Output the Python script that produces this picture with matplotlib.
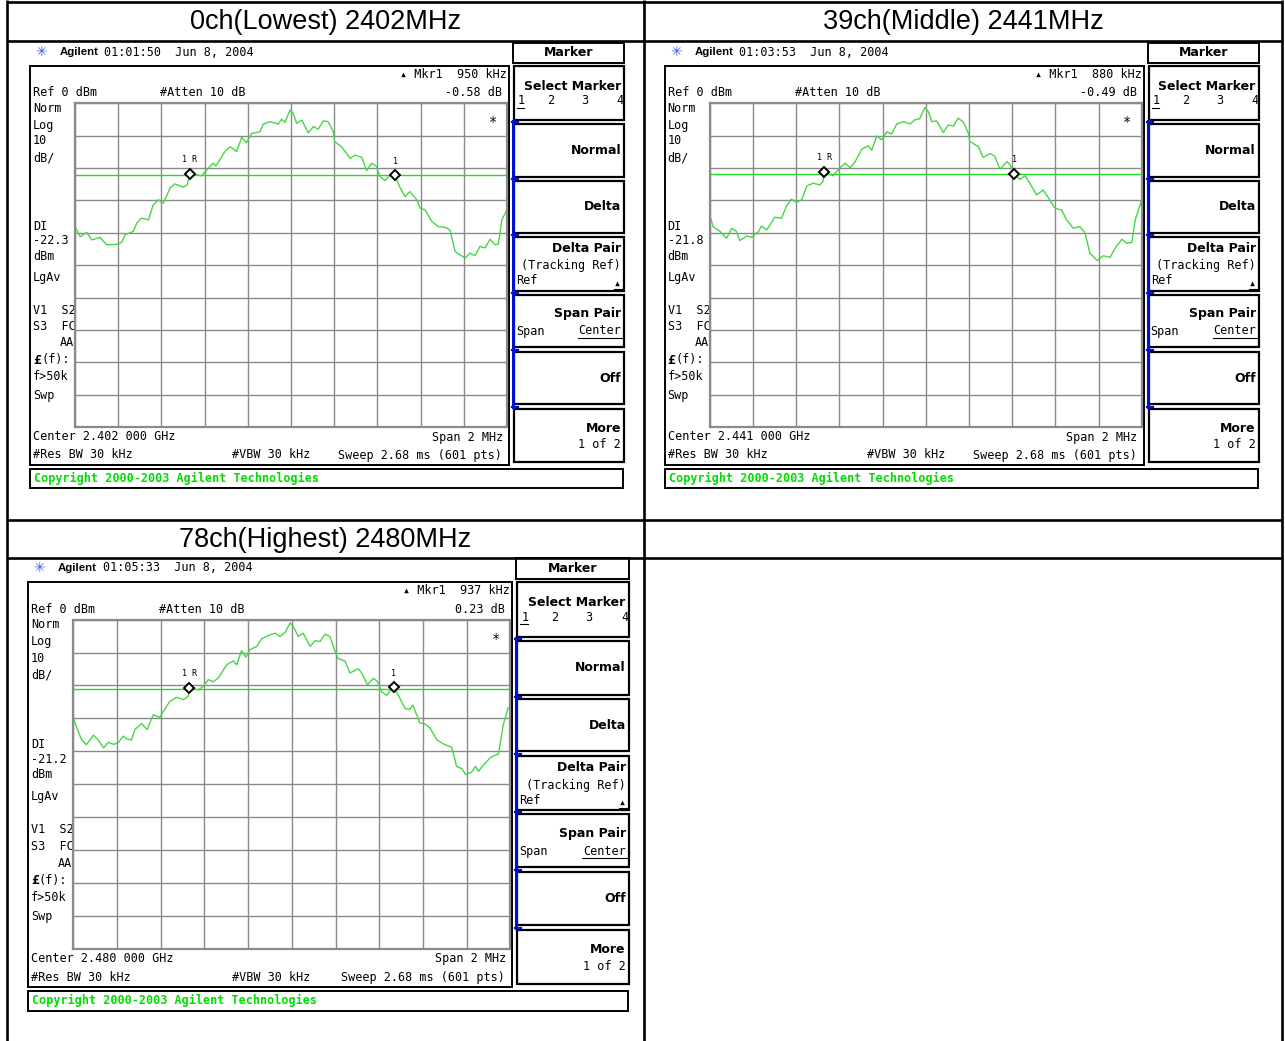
import matplotlib
matplotlib.use("Agg")
import matplotlib.pyplot as plt
from matplotlib import font_manager
from matplotlib.font_manager import FontProperties
import numpy as np

W, H = 1285, 1041
MONO = "DejaVu Sans Mono"
MONO_SIZE = 8.5

# channel titles and analyzer readouts
titles = ["0ch(Lowest) 2402MHz", "39ch(Middle) 2441MHz", "78ch(Highest) 2480MHz"]
times = ["01:01:50", "01:03:53", "01:05:33"]
centers = ["2.402 000 GHz", "2.441 000 GHz", "2.480 000 GHz"]
display_line = [-22.3, -21.8, -21.2]
mkr_delta_khz = [950, 880, 937]
mkr_delta_db = [-0.58, -0.49, 0.23]
ref_mkr_khz = [-468, -470, -470]
ref_mkr_dbm = [-21.7, -21.2, -20.8]

# traces: offset from center frequency (kHz) and level (dBm)
low_khz = [-1000, -976, -946, -922, -884, -854, -808, -784, -768, -730, -714, -692, -660,
           -638, -614, -592, -560, -538, -498, -480, -468, -414, -390, -360, -348, -306,
           -282, -252, -228, -206, -182, -144, -128, -98, -58, -44, -28, -4, 10, 26, 50,
           80, 104, 126, 150, 172, 196, 202, 234, 274, 296, 328, 350, 374, 396, 412, 436,
           458, 482, 504, 528, 550, 582, 598, 620, 652, 682, 712, 736, 760, 782, 806, 828,
           852, 875, 898, 922, 944, 960, 976, 1000]
low_dbm = [-38.1, -41.2, -39.9, -42.2, -41.4, -43.7, -43.6, -43.0, -40.6, -39.6, -37.0,
           -35.5, -36.0, -31.4, -29.8, -30.9, -26.2, -24.9, -25.9, -25.2, -21.7, -22.4,
           -20.6, -18.5, -19.4, -14.9, -13.4, -14.9, -10.5, -12.2, -9.3, -8.8, -6.4, -5.7,
           -6.4, -4.9, -5.9, -2.0, -3.1, -6.2, -5.2, -9.1, -7.2, -8.0, -5.4, -5.7, -8.8,
           -11.8, -13.4, -17.0, -16.0, -16.7, -20.8, -18.5, -19.5, -22.6, -23.9, -22.1,
           -22.3, -25.9, -28.8, -27.3, -29.8, -32.4, -32.9, -36.5, -38.1, -38.3, -39.1,
           -45.8, -46.8, -47.8, -46.3, -47.1, -44.2, -44.7, -42.0, -43.7, -43.5, -36.0,
           -32.9]

mid_khz = [-1000, -984, -952, -922, -898, -876, -860, -828, -806, -774, -760, -736, -698,
           -668, -644, -622, -598, -574, -550, -520, -490, -476, -470, -428, -404, -374,
           -350, -328, -296, -266, -250, -226, -204, -180, -158, -134, -104, -72, -50, -28,
           -4, 12, 28, 50, 82, 104, 128, 150, 174, 198, 204, 244, 266, 298, 320, 344, 376,
           390, 410, 436, 460, 482, 514, 544, 568, 598, 630, 652, 684, 714, 738, 760, 794,
           822, 854, 876, 908, 930, 954, 970, 1000]
mid_dbm = [-34.5, -38.1, -39.6, -41.7, -38.6, -39.6, -42.4, -41.0, -41.4, -39.6, -37.9,
           -39.1, -35.2, -35.5, -31.7, -29.6, -30.6, -29.8, -25.5, -24.7, -25.2, -24.2,
           -21.2, -22.4, -20.4, -18.5, -19.9, -18.2, -14.2, -13.1, -14.5, -10.1, -11.3,
           -8.8, -9.5, -6.4, -5.7, -6.4, -5.1, -4.8, -1.3, -2.5, -5.7, -5.4, -9.0, -6.7,
           -7.0, -4.6, -5.7, -9.3, -11.8, -13.4, -16.7, -15.5, -16.4, -20.4, -18.0, -19.0,
           -21.7, -23.5, -22.4, -24.7, -28.3, -26.8, -29.2, -32.4, -33.0, -36.0, -38.6,
           -38.1, -40.1, -46.3, -48.6, -47.1, -47.6, -44.8, -42.0, -43.2, -43.0, -36.0,
           -29.8]

high_khz = [-1000, -984, -962, -940, -908, -886, -862, -840, -816, -794, -772, -756, -734,
            -718, -688, -662, -634, -604, -588, -558, -526, -496, -474, -470, -428, -406,
            -382, -360, -336, -298, -268, -252, -230, -210, -192, -160, -138, -108, -76,
            -54, -30, -8, 6, 30, 52, 84, 106, 130, 152, 174, 198, 212, 244, 266, 304, 320,
            346, 374, 392, 412, 434, 450, 467, 488, 518, 538, 554, 586, 610, 632, 664, 694,
            732, 754, 778, 796, 824, 840, 854, 876, 908, 930, 946, 968, 990, 1000]
high_dbm = [-29.9, -32.9, -36.5, -38.0, -35.1, -36.5, -39.0, -37.3, -37.9, -37.4, -35.4,
            -36.2, -36.6, -33.4, -31.6, -33.4, -28.9, -29.7, -27.9, -24.8, -23.6, -24.3,
            -23.3, -20.8, -21.3, -20.3, -18.2, -18.9, -17.7, -13.7, -12.5, -13.7, -9.4,
            -11.4, -9.1, -8.1, -5.8, -4.8, -4.1, -5.1, -3.8, -1.0, -2.0, -5.1, -4.1, -8.1,
            -6.4, -6.6, -4.4, -5.1, -9.6, -11.8, -12.6, -16.2, -14.9, -16.2, -19.8, -17.8,
            -18.8, -22.0, -23.0, -21.6, -20.6, -23.0, -27.0, -27.3, -26.0, -31.4, -31.7,
            -32.9, -36.5, -37.8, -38.8, -44.6, -45.3, -47.1, -46.3, -44.6, -46.1, -44.3,
            -42.0, -41.2, -40.8, -31.9, -26.8, -26.7]

traces = [(low_khz, low_dbm), (mid_khz, mid_dbm), (high_khz, high_dbm)]

left_labels = [("Norm", 108), ("Log", 125), ("10", 141), ("dB/", 158), ("DI", 226),
               (None, 241), ("dBm", 256), ("LgAv", 277), ("V1  S2", 310), ("S3  FC", 327),
               ("f>50k", 377), ("Swp", 395)]

# softkey boxes (top, bottom) in screen pixels
key_boxes = [(66, 120), (124, 177), (181, 233), (237, 291), (295, 347), (352, 404), (409, 462)]


def has_font(name):
    try:
        font_manager.findfont(FontProperties(family=name), fallback_to_default=False)
        return True
    except Exception:
        return False


TITLE_FONT = "Liberation Sans Narrow" if has_font("Liberation Sans Narrow") else "Liberation Sans"
TITLE_SIZE = 23 if TITLE_FONT == "Liberation Sans Narrow" else 19.5


def make_map(dx, dy, sx=1.0, sy=1.0):
    return lambda x, y: (dx + sx * x, dy + sy * y)


def fig_rect(x0, y0, x1, y1):
    return [x0 / W, 1 - y1 / H, (x1 - x0) / W, (y1 - y0) / H]


def put(ax, P, x, y, s, size=MONO_SIZE, ha="left", weight="normal", family=MONO, color="black"):
    px, py = P(x, y)
    ax.text(px, py, s, ha=ha, va="center", fontsize=size, fontweight=weight,
            family=family, color=color)


def box(ax, P, x0, y0, x1, y1, lw=1.3, color="black"):
    a = P(x0, y0)
    b = P(x1, y1)
    ax.add_patch(plt.Rectangle(a, b[0] - a[0], b[1] - a[1], fill=False, lw=lw, ec=color))


def hline(ax, P, x0, x1, y, lw=0.8, color="black"):
    a = P(x0, y)
    b = P(x1, y)
    ax.plot([a[0], b[0]], [a[1], b[1]], color=color, lw=lw)


def draw_screen(fig, bg, P, i):
    # header line
    put(bg, P, 41, 52, "\u2733", size=10, ha="center", family="DejaVu Sans", color="#3a5fe0")
    put(bg, P, 60, 52, "Agilent", size=8.2, weight="bold", family="Liberation Sans")
    put(bg, P, 104, 52, f"{times[i]}  Jun 8, 2004")

    box(bg, P, 30, 66, 509, 465, lw=1.4)

    # readouts above the graticule
    put(bg, P, 507, 75, f"\u25b4 Mkr1  {mkr_delta_khz[i]} kHz", ha="right")
    put(bg, P, 33, 93, "Ref 0 dBm")
    put(bg, P, 160, 93, "#Atten 10 dB")
    put(bg, P, 502, 93, f"{mkr_delta_db[i]:.2f} dB", ha="right")

    for text, y in left_labels:
        put(bg, P, 33, y, text if text else f"{display_line[i]}")
    put(bg, P, 74, 343, "AA", ha="right")
    put(bg, P, 33, 360, "\u00a3", weight="bold", size=9.5)
    put(bg, P, 41, 360, "(f):")

    put(bg, P, 33, 437, f"Center {centers[i]}")
    put(bg, P, 503, 437, "Span 2 MHz", ha="right")
    put(bg, P, 33, 455, "#Res BW 30 kHz")
    put(bg, P, 232, 455, "#VBW 30 kHz")
    put(bg, P, 502, 455, "Sweep 2.68 ms (601 pts)", ha="right")

    box(bg, P, 30, 469, 623, 488, lw=1.4)
    put(bg, P, 34, 478, "Copyright 2000-2003 Agilent Technologies", weight="bold", color="#00dd00")

    # softkey column
    box(bg, P, 513, 43, 624, 63, lw=1.4)
    put(bg, P, 568.5, 53, "Marker", size=9, ha="center", weight="bold", family="DejaVu Sans")
    for top, bot in key_boxes:
        box(bg, P, 514, top, 624, bot, lw=1.6)
    a, b = P(513, 121), P(513, 407)
    bg.plot([a[0], b[0]], [a[1], b[1]], color="#0010d0", lw=2.2)
    for top, _ in key_boxes[1:]:
        hline(bg, P, 512, 518, top - 2, lw=1.6, color="#0010d0")

    kw = dict(size=9, ha="right", weight="bold", family="DejaVu Sans")
    put(bg, P, 621, 86, "Select Marker", **kw)
    for n, x in zip("1234", [518, 551, 585, 620]):
        put(bg, P, x, 101, n, ha="left" if n == "1" else "center")
    hline(bg, P, 517, 524, 108)
    put(bg, P, 621, 150, "Normal", **kw)
    put(bg, P, 621, 207, "Delta", **kw)
    put(bg, P, 621, 249, "Delta Pair", **kw)
    put(bg, P, 621, 266, "(Tracking Ref)", ha="right")
    put(bg, P, 516, 281, "Ref")
    put(bg, P, 621, 283, "\u25b4", ha="right")
    hline(bg, P, 614, 622, 289)
    put(bg, P, 621, 314, "Span Pair", **kw)
    put(bg, P, 516, 331, "Span")
    put(bg, P, 621, 331, "Center", ha="right")
    hline(bg, P, 578, 622, 338)
    put(bg, P, 621, 378, "Off", **kw)
    put(bg, P, 621, 428, "More", **kw)
    put(bg, P, 621, 445, "1 of 2", ha="right")

    # graticule with the measured trace
    g0 = P(75, 103.3)
    g1 = P(507, 427)
    ax = fig.add_axes(fig_rect(g0[0], g0[1], g1[0], g1[1]))
    ax.set_facecolor("white")
    ax.set_xlim(-1000, 1000)
    ax.set_ylim(-100, 0)
    ax.set_xticks(np.arange(-1000, 1001, 200))
    ax.set_yticks(np.arange(-100, 1, 10))
    ax.tick_params(length=0, labelbottom=False, labelleft=False)
    ax.grid(True, color="#8a8a8a", lw=1.0)
    for sp in ax.spines.values():
        sp.set_color("#8a8a8a")
        sp.set_linewidth(1.6)

    khz, dbm = traces[i]
    ax.axhline(display_line[i], color="#22dd22", lw=1.0)
    ax.plot(khz, dbm, color="#44d844", lw=1.0)

    rx, ry = ref_mkr_khz[i], ref_mkr_dbm[i]
    mx, my = rx + mkr_delta_khz[i], ry + mkr_delta_db[i]
    for x, y, lab in [(rx, ry, "1 R"), (mx, my, "1")]:
        ax.plot([x], [y], marker="D", ms=5.5, mfc="white", mec="black", mew=1.4)
        ax.annotate(lab, (x, y), xytext=(0, 7), textcoords="offset points",
                    ha="center", va="bottom", fontsize=6, family=MONO)
    ax.text(0.967, 0.942, "*", transform=ax.transAxes, ha="center", va="center",
            fontsize=10, family=MONO)


fig = plt.figure(figsize=(W / 100, H / 100), dpi=100)
bg = fig.add_axes([0, 0, 1, 1])
bg.set_xlim(0, W)
bg.set_ylim(H, 0)
bg.axis("off")

# table frame
tk = dict(color="black", lw=1.9, solid_capstyle="butt")
for x in [7, 644, 1282]:
    bg.plot([x, x], [0, H], **tk)
for y in [2, 41, 520, 558]:
    bg.plot([7, 1282], [y, y], **tk)

bg.text(325.5, 22, titles[0], ha="center", va="center", fontsize=TITLE_SIZE, family=TITLE_FONT)
bg.text(963, 22, titles[1], ha="center", va="center", fontsize=TITLE_SIZE, family=TITLE_FONT)
bg.text(325.5, 540, titles[2], ha="center", va="center", fontsize=TITLE_SIZE, family=TITLE_FONT)

maps = [make_map(0, 0), make_map(634.7, 0), make_map(-2.57, 514.75, 1.0116, 1.016)]
for i, P in enumerate(maps):
    draw_screen(fig, bg, P, i)

fig.savefig("out.png", dpi=100)
